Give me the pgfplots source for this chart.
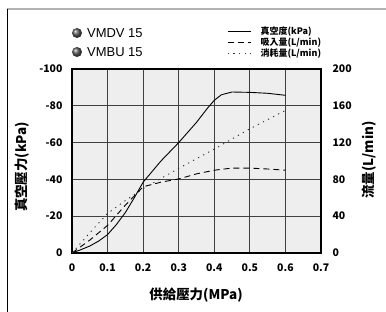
\documentclass[border=0pt]{standalone}
\usepackage{fontspec}
\setmainfont{Noto Sans CJK TC}
\newfontfamily\arial{Liberation Sans}
\usepackage{pgfplots}
\pgfplotsset{compat=1.18}
\begin{document}
\begin{tikzpicture}
\useasboundingbox (0bp,0bp) rectangle (386bp,312bp);
\draw[gray!60, line width=1.2bp] (7bp,303bp) -- (386bp,303bp);
\draw[black, line width=1bp] (7bp,303bp) -- (7bp,0bp);
\begin{axis}[
  at={(72bp,59bp)}, anchor=south west, scale only axis,
  width=249bp, height=184bp,
  xmin=0, xmax=0.7, ymin=-100, ymax=0, y dir=reverse,
  xtick={0,0.1,0.2,0.3,0.4,0.5,0.6,0.7},
  xticklabels={0,0.1,0.2,0.3,0.4,0.5,0.6,0.7},
  ytick={-100,-80,-60,-40,-20,0},
  yticklabels={-100,-80,-60,-40,-20,0},
  major tick length=0pt,
  grid=major,
  major grid style={line width=0.9bp, color=black!75},
  axis line style={line width=1.4bp},
  axis background/.style={fill=gray!13},
  tick label style={font=\fontsize{10.5}{12}\selectfont\bfseries},
  yticklabel style={xshift=-6bp},
  xticklabel style={yshift=-7bp},
]
\addplot[black, line width=0.9bp] coordinates {
(0,0) (0.025,-1.8) (0.05,-3.8) (0.075,-6.5) (0.1,-10) (0.125,-15.5) (0.15,-22) (0.175,-30) (0.2,-38.5)
(0.25,-50) (0.3,-60) (0.35,-71) (0.38,-78.5) (0.4,-83) (0.42,-86) (0.45,-87.5) (0.5,-87.3) (0.55,-86.8) (0.6,-85.7)};
\end{axis}
\begin{axis}[
  at={(72bp,59bp)}, anchor=south west, scale only axis,
  width=249bp, height=184bp,
  xmin=0, xmax=0.7, ymin=0, ymax=200,
  axis x line=none, axis y line*=right,
  ytick={0,40,80,120,160,200},
  yticklabels={0,40,80,120,160,200},
  major tick length=0pt,
  axis line style={line width=1.4bp},
  tick label style={font=\fontsize{10.5}{12}\selectfont\bfseries},
  yticklabel style={xshift=8bp},
  legend style={at={(axis description cs:0.6225,1.23)}, anchor=north west,
    draw=none, fill=none, inner sep=0pt, row sep=1bp, column sep=9bp,
    font=\fontsize{9}{9}\selectfont\bfseries,
    nodes={inner sep=0.5bp, text height=7bp, text depth=2bp}},
  legend cell align=left,
  legend image code/.code={\draw[#1] (0bp,0bp) -- (23bp,0bp);},
]
\addlegendimage{black, line width=0.9bp}
\addlegendentry{真空度(kPa)}
\addplot[black, line width=0.9bp, dash pattern=on 6bp off 4bp] coordinates {
(0,0) (0.05,14) (0.1,30) (0.15,52) (0.2,72) (0.25,77) (0.3,80.5) (0.35,86) (0.4,90) (0.45,92.3) (0.5,92.3) (0.55,91.3) (0.6,90)};
\addlegendentry{吸入量(L/min)}
\addplot[black!80, line width=0.9bp, dash pattern=on 1.2bp off 4.5bp] coordinates {
(0,0) (0.05,22) (0.1,43) (0.15,57) (0.2,70) (0.3,92) (0.4,113) (0.5,135) (0.6,155)};
\addlegendentry{消耗量(L/min)}
\end{axis}
\shade[ball color=gray!70!black] (77bp,279bp) circle (5bp);
\shade[ball color=gray!70!black] (77bp,260bp) circle (5bp);
\node[anchor=west, inner sep=0pt, font=\arial\fontsize{13}{15}\selectfont] at (87bp,279bp) {VMDV 15};
\node[anchor=west, inner sep=0pt, font=\arial\fontsize{13}{15}\selectfont] at (87bp,260bp) {VMBU 15};
\node[rotate=90, inner sep=0pt, font=\fontsize{13.5}{15}\selectfont\bfseries] at (22bp,145bp) {真空壓力(kPa)};
\node[rotate=90, inner sep=0pt, font=\fontsize{13.5}{15}\selectfont\bfseries] at (369bp,152bp) {流量(L/min)};
\node[inner sep=0pt, font=\fontsize{13.5}{15}\selectfont\bfseries] at (196bp,17bp) {供給壓力(MPa)};
\end{tikzpicture}
\end{document}
